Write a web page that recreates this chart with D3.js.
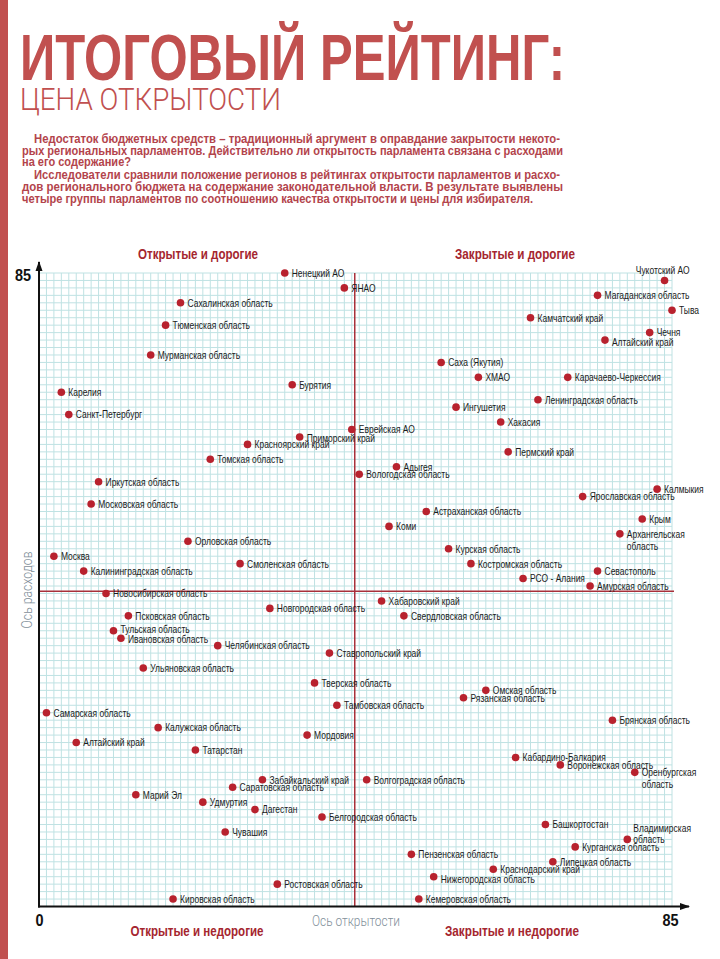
<!DOCTYPE html>
<html><head><meta charset="utf-8">
<script src="https://cdn.jsdelivr.net/npm/d3@7"></script>
<style>
html,body{margin:0;padding:0;background:#fff;}
svg{display:block;}
</style></head>
<body>
<svg id="chart" width="720" height="959"></svg>
<script>
// ---------- DATA ----------
const regions = [
 "Ненецкий АО","ЯНАО","Сахалинская область","Тюменская область","Мурманская область","Бурятия",
 "Карелия","Санкт-Петербург","Еврейская АО","Приморский край","Красноярский край","Томская область",
 "Чукотский АО","Магаданская область","Тыва","Камчатский край","Чечня","Алтайский край",
 "Саха (Якутия)","ХМАО","Карачаево-Черкессия","Ленинградская область","Ингушетия","Хакасия",
 "Пермский край","Адыгея","Вологодская область","Иркутская область","Московская область",
 "Орловская область","Москва","Смоленская область","Калининградская область","Калмыкия",
 "Ярославская область","Астраханская область","Крым","Коми","Архангельская область","Курская область",
 "Костромская область","Севастополь","РСО - Алания","Амурская область",
 "Новосибирская область","Новгородская область","Псковская область","Тульская область",
 "Ивановская область","Челябинская область","Ставропольский край","Ульяновская область",
 "Тверская область","Хабаровский край","Свердловская область","Самарская область",
 "Тамбовская область","Калужская область","Мордовия","Алтайский край","Татарстан",
 "Забайкальский край","Саратовская область","Марий Эл","Удмуртия","Дагестан",
 "Белгородская область","Чувашия","Ростовская область","Кировская область",
 "Омская область","Рязанская область","Брянская область","Кабардино-Балкария",
 "Воронежская область","Оренбургская область","Волгоградская область","Башкортостан",
 "Владимирская область","Курганская область","Пензенская область","Липецкая область",
 "Краснодарский край","Нижегородская область","Кемеровская область"
];
// Ось открытости (x)
const openness = [
 33,41,19,17,15,34,
 3,4,42,35,28,23,
 84,75,85,66,82,76,
 54,59,71,67,56,62,
 63,48,43,8,7,
 20,2,27,6,83,
 73,52,81,47,78,55,
 58,75,65,74,
 9,31,12,10,
 11,24,39,14,
 37,46,49,1,
 40,16,36,5,21,
 30,26,13,22,29,
 38,25,32,18,
 60,57,77,64,
 70,80,44,68,
 79,72,50,69,
 61,53,51
];
// Ось расходов (y)
const costs = [
 85,83,81,78,74,70,
 69,66,64,63,62,60,
 84,82,80,79,77,76,
 73,71,71,68,67,65,
 61,59,58,57,54,
 49,47,46,45,56,
 55,53,52,51,50,48,
 46,45,44,43,
 42,40,39,37,
 36,35,34,32,
 30,41,39,26,
 27,24,23,22,21,
 17,16,15,14,13,
 12,10,3,1,
 29,28,25,20,
 19,18,17,11,
 9,8,7,6,
 5,4,1
];
const axisTicks = [0, 85];
const medianOpenness = 42.4;
const medianCost = 42.3;
const quadrantNames = ["Открытые и дорогие","Закрытые и дорогие","Открытые и недорогие","Закрытые и недорогие"];
const titleMain = "ИТОГОВЫЙ РЕЙТИНГ:";
const titleSub = "ЦЕНА ОТКРЫТОСТИ";
const paragraphLines = [
 "Недостаток бюджетных средств – традиционный аргумент в оправдание закрытости некото-",
 "рых региональных парламентов. Действительно ли открытость парламента связана с расходами",
 "на его содержание?",
 "Исследователи сравнили положение регионов в рейтингах открытости парламентов и расхо-",
 "дов регионального бюджета на содержание законодательной власти. В результате выявлены",
 "четыре группы парламентов по соотношению качества открытости и цены для избирателя."
];

// ---------- DRAW ----------
const svg = d3.select("#chart");
const SANS = "'Liberation Sans', Arial, sans-serif";
const RED = "#c1504f";
const DARKRED = "#a5262f";

// emulate a condensed face: squeeze measured width by factor
function squeeze(sel, factor){
  sel.each(function(){
    const w = this.getComputedTextLength();
    d3.select(this).attr("textLength", w*factor).attr("lengthAdjust","spacingAndGlyphs");
  });
}

svg.append("rect").attr("x",0).attr("y",0).attr("width",8).attr("height",959).attr("fill",RED);

svg.append("text").text(titleMain)
  .attr("x",20).attr("y",80)
  .attr("font-family",SANS).attr("font-weight","bold").attr("font-size",65)
  .attr("fill",RED).attr("textLength",545).attr("lengthAdjust","spacingAndGlyphs");
svg.append("text").text(titleSub)
  .attr("x",20).attr("y",110)
  .attr("font-family","Roboto, sans-serif").attr("font-weight",300).attr("font-size",32)
  .attr("fill",RED).attr("textLength",261).attr("lengthAdjust","spacingAndGlyphs");

const paraX = [34,22,22,34,22,22];
const paraW = [526,541,109,526,541,511];
const paraY = [143,155,166,179,191,203];
paragraphLines.forEach((t,i)=>{
  svg.append("text").text(t)
   .attr("x",paraX[i]).attr("y",paraY[i])
   .attr("font-family",SANS).attr("font-weight","bold").attr("font-size",12.5)
   .attr("fill","#b3444c").attr("textLength",paraW[i]).attr("lengthAdjust","spacingAndGlyphs");
});

const x = d3.scaleLinear().domain([0,85]).range([39,672]);
const y = d3.scaleLinear().domain([0,85]).range([906.5,273]);

// grid
const g = svg.append("g");
const gridVals = d3.range(0,86,1);
g.selectAll("line.gv").data(gridVals).join("line")
  .attr("x1",d=>x(d)).attr("x2",d=>x(d)).attr("y1",y(0)).attr("y2",y(85))
  .attr("stroke","#bfe2e3").attr("stroke-width",1);
g.selectAll("line.gh").data(gridVals).join("line")
  .attr("y1",d=>y(d)).attr("y2",d=>y(d)).attr("x1",x(0)).attr("x2",x(85))
  .attr("stroke","#bfe2e3").attr("stroke-width",1);

// median lines
svg.append("line").attr("x1",x(medianOpenness)).attr("x2",x(medianOpenness))
  .attr("y1",y(0)).attr("y2",y(85)).attr("stroke","#a8303a").attr("stroke-width",1.5);
svg.append("line").attr("x1",x(0)).attr("x2",x(85)+2)
  .attr("y1",y(medianCost)).attr("y2",y(medianCost)).attr("stroke","#a8303a").attr("stroke-width",1.5);

// axes lines with arrows
svg.append("defs").append("marker").attr("id","arr")
  .attr("viewBox","0 0 10 10").attr("refX",9).attr("refY",5)
  .attr("markerWidth",5).attr("markerHeight",5).attr("orient","auto")
  .append("path").attr("d","M0,1.5 L10,5 L0,8.5 Z").attr("fill","#111");
svg.append("line").attr("x1",x(0)).attr("x2",x(0)).attr("y1",y(0)+1).attr("y2",262)
  .attr("stroke","#111").attr("stroke-width",2).attr("marker-end","url(#arr)");
svg.append("line").attr("x1",x(0)-1).attr("x2",689).attr("y1",y(0)).attr("y2",y(0))
  .attr("stroke","#111").attr("stroke-width",2).attr("marker-end","url(#arr)");

// tick labels via d3 axes
const xAxis = svg.append("g").attr("transform",`translate(0,${y(0)})`)
  .call(d3.axisBottom(x).tickValues(axisTicks).tickSize(0).tickPadding(7).tickFormat(d3.format("d")));
xAxis.select(".domain").remove();
xAxis.selectAll("text").attr("font-family",SANS).attr("font-weight","bold").attr("font-size",17).attr("fill","#111");
xAxis.selectAll(".tick").filter(d=>d===85).select("text").attr("dx",-2);
squeeze(xAxis.selectAll("text"),0.85);
const yAxis = svg.append("g").attr("transform",`translate(${x(0)},0)`)
  .call(d3.axisLeft(y).tickValues([85]).tickSize(0).tickPadding(8).tickFormat(d3.format("d")));
yAxis.select(".domain").remove();
yAxis.selectAll("text").attr("font-family",SANS).attr("font-weight","bold").attr("font-size",17).attr("fill","#111").attr("dy","0.45em");
squeeze(yAxis.selectAll("text"),0.85);

// axis titles
svg.append("text").text("Ось открытости").attr("x",356).attr("y",926).attr("text-anchor","middle")
  .attr("font-family","Roboto, sans-serif").attr("font-weight",300).attr("font-size",14)
  .attr("fill","#7f8f9a").attr("textLength",88).attr("lengthAdjust","spacingAndGlyphs");
svg.append("text").text("Ось расходов").attr("transform","translate(32,590) rotate(-90)")
  .attr("text-anchor","middle")
  .attr("font-family","Roboto, sans-serif").attr("font-weight",300).attr("font-size",14)
  .attr("fill","#7f8f9a").attr("textLength",77).attr("lengthAdjust","spacingAndGlyphs");

// quadrant labels
const qPos = [[198,259],[515,259],[197,936],[512,936]];
const qW = [120,120,133,134];
quadrantNames.forEach((t,i)=>{
  svg.append("text").text(t).attr("x",qPos[i][0]).attr("y",qPos[i][1]).attr("text-anchor","middle")
   .attr("font-family",SANS).attr("font-weight","bold").attr("font-size",14)
   .attr("fill",DARKRED).attr("textLength",qW[i]).attr("lengthAdjust","spacingAndGlyphs");
});

// points
const pts = regions.map((name,i)=>({name, ox:openness[i], cy:costs[i], i}));
svg.append("g").selectAll("circle").data(pts).join("circle")
  .attr("cx",d=>x(d.ox)).attr("cy",d=>y(d.cy)).attr("r",3.8).attr("fill","#b8222e");

// labels (placement tweaks are styling, keyed by name)
const special = {
  "Чукотский АО": {anchor:"end", dx:25, dy:-10},
  "Алтайский край|76": {dy:2.3},
  "Нижегородская область": {dy:2.5},
  "Тульская область": {dy:-1.2},
  "Ивановская область": {dy:1.2},
  "Приморский край": {dy:0.8},
  "Архангельская область": {lines:["Архангельская","область"], dy:0, lh:12.5},
  "Оренбургская область": {lines:["Оренбургская","область"], dy:0, lh:12},
  "Владимирская область": {lines:["Владимирская","область"], dy:-11.7, lh:11.7, dx:6}
};
const lab = svg.append("g").attr("font-family",SANS).attr("font-size",11).attr("fill","#1b1b1b");
pts.forEach(d=>{
  const s = special[d.name+"|"+d.ox] || special[d.name] || {};
  const px = x(d.ox), py = y(d.cy);
  const lx = px+(s.dx!==undefined?s.dx:7);
  const lines = s.lines || [d.name];
  lines.forEach((ln,k)=>{
    const t = lab.append("text")
      .attr("x",lx).attr("y",py+(s.dy||0)+k*(s.lh||0))
      .attr("dy","0.35em").attr("text-anchor",s.anchor||"start").text(ln);
    squeeze(t,0.77);
  });
});
</script>
</body></html>
